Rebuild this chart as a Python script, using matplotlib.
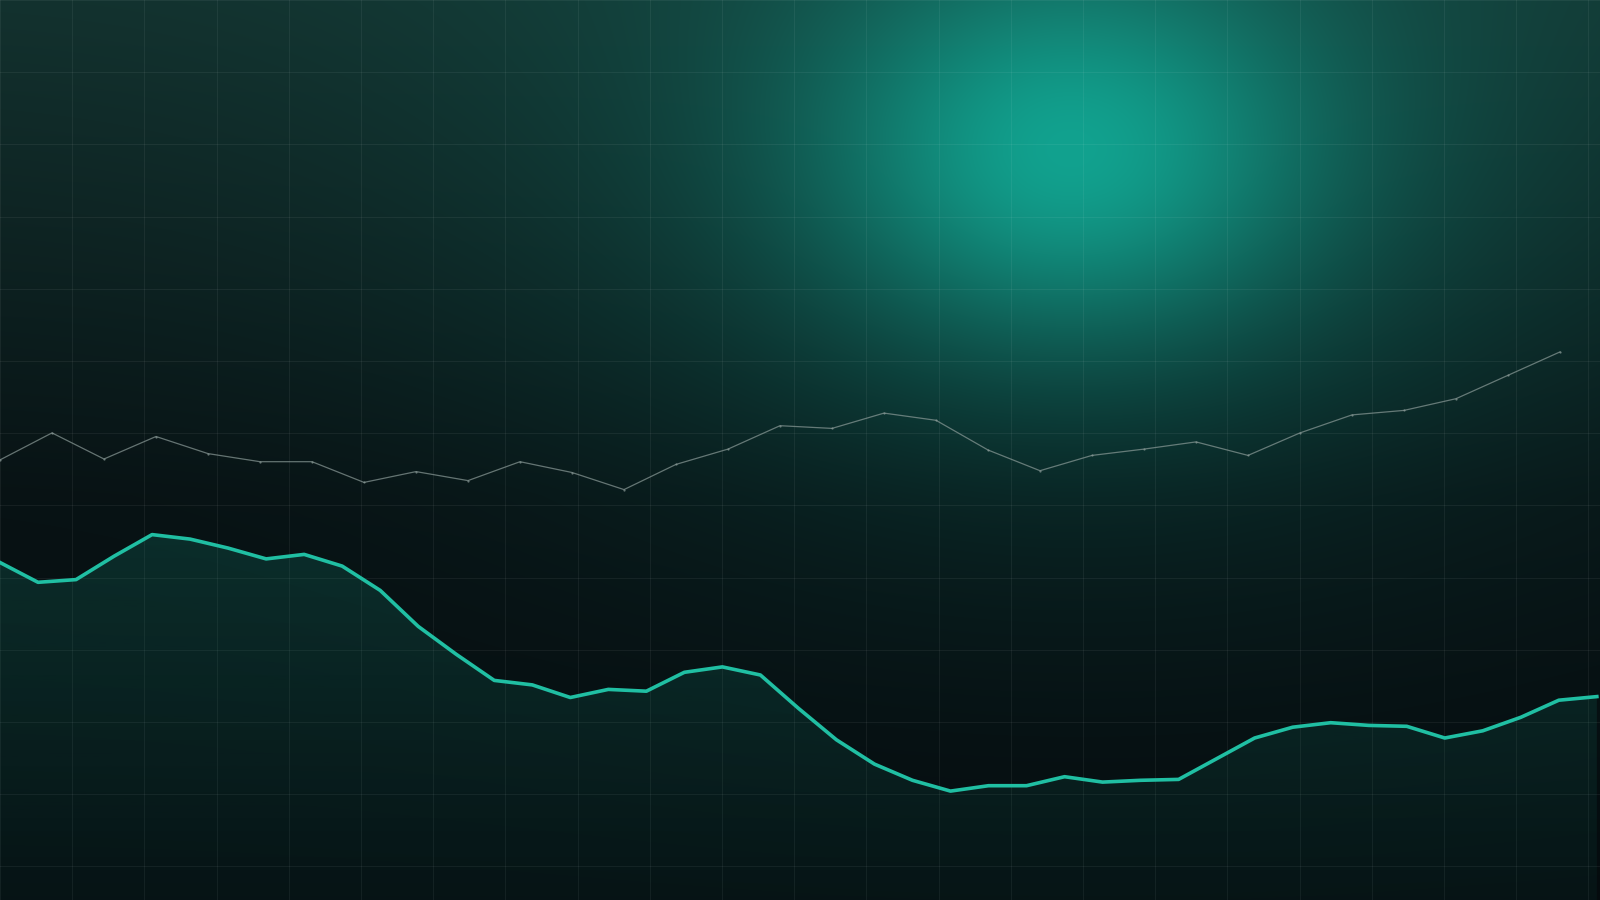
import numpy as np
import matplotlib
matplotlib.use("Agg")
import matplotlib.pyplot as plt
from matplotlib.colors import to_rgb

# teal series (43 points) and grey series (31 points), values in % of chart height
teal_values = [37.5, 35.3, 35.6, 38.2, 40.6, 40.1, 39.1, 37.9, 38.4, 37.1,
               34.4, 30.4, 27.3, 24.4, 23.9, 22.5, 23.4, 23.2, 25.3, 25.9,
               25.0, 21.3, 17.8, 15.1, 13.3, 12.1, 12.7, 12.7, 13.7, 13.1,
               13.3, 13.4, 15.7, 18.0, 19.2, 19.7, 19.4, 19.3, 18.0, 18.8,
               20.3, 22.2, 22.6]
grey_values = [48.9, 51.9, 49.0, 51.5, 49.6, 48.7, 48.7, 46.4, 47.6, 46.6,
               48.7, 47.5, 45.6, 48.4, 50.1, 52.7, 52.4, 54.1, 53.3, 50.0,
               47.7, 49.4, 50.1, 50.9, 49.4, 51.9, 53.9, 54.4, 55.7, 58.3,
               60.9]

W, H = 1600, 900
teal = "#20bfa3"
grey = "#8c9c99"

fig = plt.figure(figsize=(16, 9), dpi=100)

# background: vertical dark gradient + teal glow near the top
yy, xx = np.mgrid[0:H, 0:W].astype(float)
t = yy / H
top = np.array(to_rgb("#13312e"))
mid = np.array(to_rgb("#081214"))
bot = np.array(to_rgb("#050b0e"))
w1 = np.clip(t / 0.55, 0, 1)[..., None]
w2 = np.clip((t - 0.55) / 0.45, 0, 1)[..., None]
base = top * (1 - w1) + mid * w1
base = base * (1 - w2) + bot * w2
glow_col = np.array(to_rgb("#12a28f"))
d1 = ((xx - 1070) / 250) ** 2 + ((yy - 150) / 190) ** 2
d2 = ((xx - 1080) / 560) ** 2 + ((yy - 130) / 400) ** 2
glow = 0.72 * np.exp(-d1) + 0.28 * np.exp(-d2)
glow = np.clip(glow, 0, 1)[..., None]
img = base * (1 - glow) + glow_col * glow

bg = fig.add_axes([0, 0, 1, 1])
bg.imshow(img, extent=[0, W, H, 0], aspect="auto", interpolation="bilinear")
bg.set_xlim(0, W)
bg.set_ylim(H, 0)
bg.set_xticks(np.arange(0, W + 1, 72.2))
bg.set_yticks(np.arange(0, H + 1, 72.2))
bg.grid(True, color="white", alpha=0.06, linewidth=0.8)
bg.tick_params(length=0, labelbottom=False, labelleft=False)
for s in bg.spines.values():
    s.set_visible(False)

# teal series with gradient fill
ax_t = fig.add_axes([0, 0, 1, 1], facecolor="none")
x_t = np.arange(len(teal_values))
y_t = np.array(teal_values)
poly = ax_t.fill_between(x_t, y_t, 0, facecolor="none", edgecolor="none")
rgba = np.zeros((256, 1, 4))
rgba[..., :3] = to_rgb(teal)
rgba[..., 3] = np.linspace(0.16, 0.05, 256)[:, None]
im = ax_t.imshow(rgba, extent=[0, x_t[-1], 0, y_t.max()], aspect="auto",
                 origin="upper", zorder=1)
im.set_clip_path(poly.get_paths()[0], transform=ax_t.transData)
ax_t.plot(x_t, y_t, color=teal, linewidth=2.6, solid_joinstyle="round", zorder=3)
ax_t.set_xlim(0, 1600 / 38.02)
ax_t.set_ylim(0, 100)
ax_t.axis("off")

# grey series
ax_g = fig.add_axes([0, 0, 1, 1], facecolor="none")
x_g = np.arange(len(grey_values))
ax_g.plot(x_g, grey_values, color=grey, linewidth=0.9, alpha=0.7,
          marker="o", markersize=1.6, markeredgewidth=0)
ax_g.set_xlim(0, 1600 / 52.0)
ax_g.set_ylim(0, 100)
ax_g.axis("off")

fig.savefig("out.png", dpi=100)
